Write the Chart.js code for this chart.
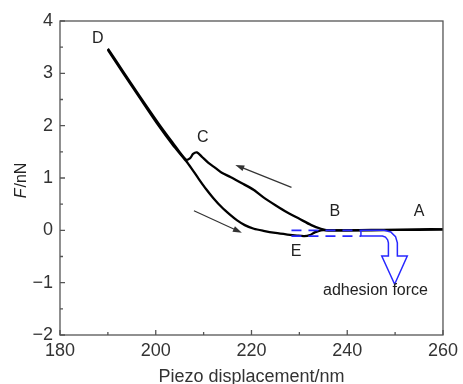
<!DOCTYPE html>
<html>
<head>
<meta charset="utf-8">
<script src="https://cdn.jsdelivr.net/npm/chart.js@4.4.0/dist/chart.umd.min.js"></script>
<style>
	html, body { margin: 0; padding: 0; background: #fff; }
</style>
</head>
<body>
<canvas id="mycanvas" width="463" height="384"></canvas>
<script>
// approach curve, A -> B -> C -> D
var approachX = [260, 255, 250, 245, 240, 236, 234.5, 232.5, 230, 227.5, 225, 222.5, 220.5, 218, 215.6, 213.8, 212.5, 211, 209.6, 208.6, 207.8, 207.2, 206.3, 203.5, 200.6, 196.6, 193.3, 190];
var approachF = [0.02, 0.01, 0.01, 0.0, 0.0, 0.0, 0.03, 0.10, 0.22, 0.34, 0.48, 0.63, 0.77, 0.90, 1.02, 1.10, 1.19, 1.29, 1.41, 1.49, 1.46, 1.38, 1.35, 1.68, 2.04, 2.57, 3.02, 3.47];

// retract curve, D -> E -> A
var retractX = [190, 193.3, 196.6, 200.6, 203.5, 206.3, 207.5, 209, 210.5, 212, 213.8, 215.5, 217, 218.6, 220.5, 222.5, 225, 227.5, 229.5, 231, 232.2, 233.2, 234.5, 236, 240, 245, 250, 255, 260];
var retractF = [3.45, 2.99, 2.54, 2.0, 1.64, 1.33, 1.18, 0.98, 0.79, 0.62, 0.44, 0.30, 0.19, 0.10, 0.03, -0.01, -0.05, -0.08, -0.10, -0.11, -0.09, -0.04, 0.0, 0.0, 0.0, 0.01, 0.01, 0.02, 0.02];

var xTicks = [180, 200, 220, 240, 260];
var yTicks = [-2, -1, 0, 1, 2, 3, 4];

// point letters
var labelText = ['A', 'B', 'C', 'D', 'E'];
var labelX = [255.0, 237.4, 209.85, 187.9, 229.3];
var labelF = [0.35, 0.35, 1.78, 3.66, -0.41];

// adhesion force marker (blue dashed band + hollow arrow)
var bandX = [228.35, 242.86];
var bandTopF = [0.0, 0.0];
var bandBottomF = [-0.11, -0.11];
var hollowX = [242.86, 247.71, 249.09, 250.09, 250.47, 250.47, 252.54, 249.90, 247.21, 248.60, 248.60, 248.43, 247.98, 247.36, 242.86, 242.86];
var hollowF = [0.0, 0.0, -0.03, -0.12, -0.24, -0.49, -0.49, -1.03, -0.49, -0.49, -0.24, -0.18, -0.13, -0.11, -0.11, 0.0];
var noteText = 'adhesion force';
var noteX = 245.9, noteF = -1.16;

// direction arrows, tail -> head
var arrowTailX = [228.35, 207.98];
var arrowTailF = [0.82, 0.375];
var arrowHeadX = [216.62, 217.99];
var arrowHeadF = [1.25, -0.046];

var FONT = '"Liberation Sans", Arial, sans-serif';

function pts(xs, ys) {
	var out = [];
	for (var i = 0; i < xs.length; i++) out.push({x: xs[i], y: ys[i]});
	return out;
}

var decor = {
	id: 'decor',
	afterDraw: function(chart) {
		var ctx = chart.ctx, a = chart.chartArea;
		var xs = chart.scales.x, ys = chart.scales.y;
		var i, p;
		ctx.save();

		// frame + inward ticks
		ctx.strokeStyle = '#555';
		ctx.lineWidth = 1.3;
		ctx.strokeRect(a.left, a.top, a.right - a.left, a.bottom - a.top);
		ctx.beginPath();
		for (i = 0; i < xTicks.length; i++) {
			p = xs.getPixelForValue(xTicks[i]);
			ctx.moveTo(p, a.bottom); ctx.lineTo(p, a.bottom - 5);
			if (i < xTicks.length - 1) {
				p = xs.getPixelForValue((xTicks[i] + xTicks[i + 1]) / 2);
				ctx.moveTo(p, a.bottom); ctx.lineTo(p, a.bottom - 3);
			}
		}
		for (i = 0; i < yTicks.length; i++) {
			p = ys.getPixelForValue(yTicks[i]);
			ctx.moveTo(a.left, p); ctx.lineTo(a.left + 5, p);
			if (i < yTicks.length - 1) {
				p = ys.getPixelForValue((yTicks[i] + yTicks[i + 1]) / 2);
				ctx.moveTo(a.left, p); ctx.lineTo(a.left + 3, p);
			}
		}
		ctx.stroke();

		// direction arrows
		ctx.strokeStyle = '#333';
		ctx.fillStyle = '#333';
		ctx.lineWidth = 1.2;
		for (i = 0; i < arrowTailX.length; i++) {
			var x0 = xs.getPixelForValue(arrowTailX[i]), y0 = ys.getPixelForValue(arrowTailF[i]);
			var x1 = xs.getPixelForValue(arrowHeadX[i]), y1 = ys.getPixelForValue(arrowHeadF[i]);
			var ang = Math.atan2(y1 - y0, x1 - x0);
			ctx.beginPath();
			ctx.moveTo(x0, y0);
			ctx.lineTo(x1 - 6 * Math.cos(ang), y1 - 6 * Math.sin(ang));
			ctx.stroke();
			ctx.beginPath();
			ctx.moveTo(x1, y1);
			ctx.lineTo(x1 - 9 * Math.cos(ang) + 3 * Math.sin(ang), y1 - 9 * Math.sin(ang) - 3 * Math.cos(ang));
			ctx.lineTo(x1 - 9 * Math.cos(ang) - 3 * Math.sin(ang), y1 - 9 * Math.sin(ang) + 3 * Math.cos(ang));
			ctx.closePath();
			ctx.fill();
		}

		// letters and note
		ctx.fillStyle = '#222';
		ctx.font = '16px ' + FONT;
		ctx.textAlign = 'center';
		ctx.textBaseline = 'middle';
		for (i = 0; i < labelText.length; i++) {
			ctx.fillText(labelText[i], xs.getPixelForValue(labelX[i]), ys.getPixelForValue(labelF[i]));
		}
		ctx.fillText(noteText, xs.getPixelForValue(noteX), ys.getPixelForValue(noteF));

		// y title: italic F + /nN, rotated
		ctx.translate(22, (a.top + a.bottom) / 2 + 3);
		ctx.rotate(-Math.PI / 2);
		ctx.textAlign = 'left';
		ctx.font = 'italic 16px ' + FONT;
		var wF = ctx.measureText('F').width;
		ctx.font = '16px ' + FONT;
		var wR = ctx.measureText('/nN').width;
		var sx = -(wF + wR) / 2;
		ctx.font = 'italic 16px ' + FONT;
		ctx.fillText('F', sx, 0);
		ctx.font = '16px ' + FONT;
		ctx.fillText('/nN', sx + wF + 1, 0);
		ctx.restore();
	}
};

var blue = 'rgb(40, 40, 255)';
var chartdata = {
	datasets: [
		{data: pts(bandX, bandTopF), borderColor: blue, borderWidth: 1.6, borderDash: [10, 7], tension: 0},
		{data: pts(bandX, bandBottomF), borderColor: blue, borderWidth: 1.6, borderDash: [10, 7], tension: 0},
		{data: pts(hollowX, hollowF), borderColor: blue, borderWidth: 1.5, tension: 0},
		{data: pts(approachX, approachF), borderColor: '#000', borderWidth: 2.3, tension: 0.25},
		{data: pts(retractX, retractF), borderColor: '#000', borderWidth: 2.3, tension: 0.25}
	]
};

var ctx = document.getElementById('mycanvas');
var chart = new Chart(ctx, {
	type: 'line',
	data: chartdata,
	options: {
		responsive: false,
		animation: false,
		devicePixelRatio: 1,
		layout: {padding: {left: 0, top: 21, right: 17, bottom: 0}},
		elements: {point: {radius: 0}, line: {fill: false}},
		plugins: {legend: {display: false}, tooltip: {enabled: false}},
		scales: {
			x: {
				type: 'linear', min: 180, max: 260,
				afterBuildTicks: function(s) { s.ticks = xTicks.map(function(v) { return {value: v}; }); },
				afterFit: function(s) { s.height = 49; },
				grid: {display: false, drawTicks: false},
				border: {display: false},
				ticks: {padding: 5, color: '#333', font: {family: FONT, size: 18}},
				title: {display: true, text: 'Piezo displacement/nm', color: '#333',
					font: {family: FONT, size: 18, lineHeight: 1}, padding: {top: 0, bottom: -2}}
			},
			y: {
				type: 'linear', min: -2, max: 4,
				afterBuildTicks: function(s) { s.ticks = yTicks.map(function(v) { return {value: v}; }); },
				afterFit: function(s) { s.width = 60; },
				grid: {display: false, drawTicks: false},
				border: {display: false},
				ticks: {padding: 7, color: '#333', font: {family: FONT, size: 18},
					callback: function(v) { return String(v).replace('-', '\u2212'); }}
			}
		}
	},
	plugins: [decor]
});
</script>
</body>
</html>
